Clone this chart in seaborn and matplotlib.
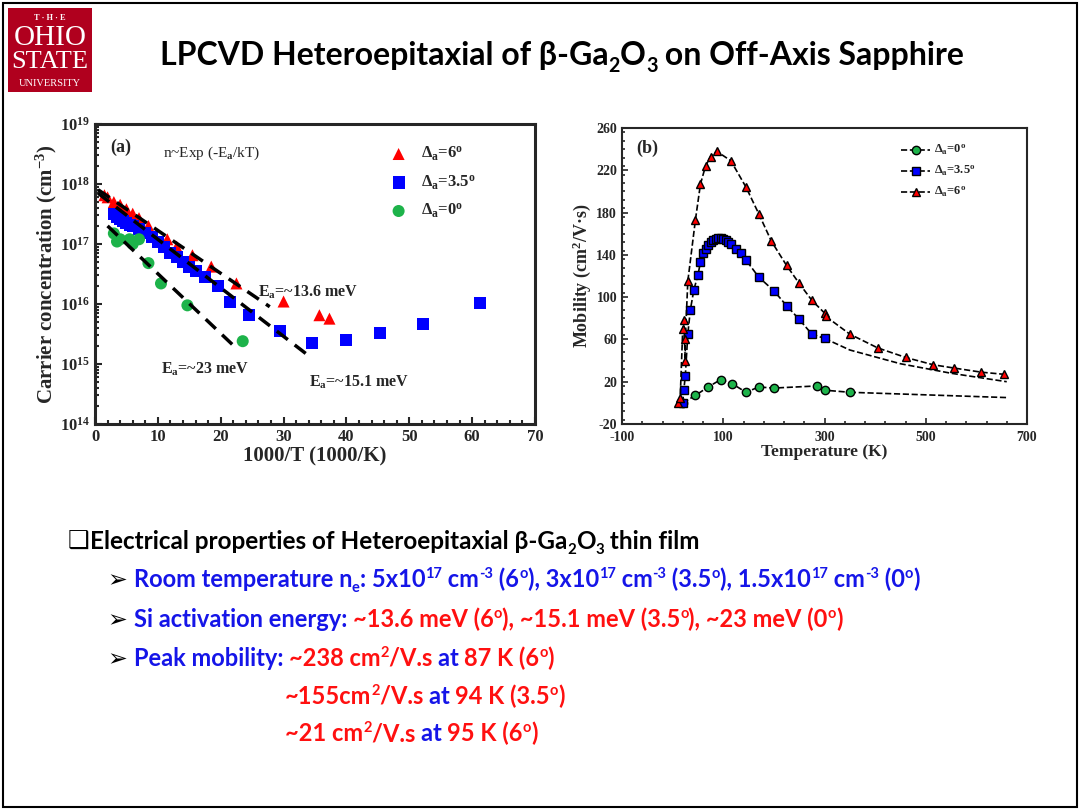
import numpy as np
import pandas as pd
import seaborn as sns
import matplotlib
matplotlib.use('Agg')
from matplotlib import pyplot as plt
from matplotlib.patches import Rectangle
from matplotlib.ticker import MultipleLocator, LogLocator, NullFormatter
from matplotlib.transforms import IdentityTransform

# ---- panel (a): carrier concentration vs 1000/T ----
inv_t_6 = [1.5, 2, 3, 4, 5, 6, 7, 8.5, 11.5, 13, 15.5, 18.5, 22.5, 30, 35.7, 37.3]
n_6 = [6.5e17, 6e17, 5e17, 4.5e17, 3.8e17, 3.2e17, 2.7e17, 2e17, 1.2e17, 9e16, 6.5e16,
       4.2e16, 2.2e16, 1.1e16, 6.5e15, 5.7e15]
inv_t_35 = [3, 3.5, 4, 4.5, 5, 5.5, 6, 7, 8, 9, 10, 11, 12, 13, 14, 15, 16, 17.5, 19.5,
            21.5, 24.5, 29.5, 34.5, 40, 45.3, 52.2, 61.3]
n_35 = [3.2e17, 2.8e17, 2.6e17, 2.4e17, 2.2e17, 2.1e17, 2e17, 1.8e17, 1.5e17, 1.3e17,
        1.1e17, 9e16, 7e16, 6e16, 5e16, 4.2e16, 3.5e16, 2.8e16, 2e16, 1.1e16, 6.5e15,
        3.5e15, 2.2e15, 2.5e15, 3.3e15, 4.7e15, 1.05e16]
inv_t_0 = [3, 3.5, 4, 5.5, 6, 7, 8.5, 10.5, 14.7, 23.5]
n_0 = [1.5e17, 1.1e17, 1.2e17, 1.2e17, 1e17, 1.2e17, 4.8e16, 2.2e16, 9.5e15, 2.4e15]
fit_6 = ([0.5, 27.8], [8e17, 9e15])
fit_35 = ([0.5, 34.5], [7e17, 1.25e15])
fit_0 = ([2, 22.8], [2e17, 1.7e15])

# ---- panel (b): mobility vs temperature ----
temp_6 = [10, 15, 20, 22, 25, 25, 30, 45, 55, 65, 75, 87, 115, 145, 170, 195, 225, 250,
          275, 300, 302, 350, 405, 460, 515, 555, 610, 655]
mu_6 = [0, 5, 70, 78, 40, 60, 115, 173, 207, 224, 233, 238, 229, 204, 179, 153, 130, 113,
        97, 85, 82, 65, 52, 43, 36, 33, 29, 27]
temp_35 = [20, 22, 25, 30, 35, 42, 50, 55, 60, 65, 70, 75, 80, 85, 90, 95, 100, 105, 110,
           115, 125, 135, 145, 170, 200, 225, 250, 275, 300]
mu_35 = [0, 12, 25, 65, 88, 107, 121, 133, 142, 146, 149, 152, 154, 155, 156, 156, 155,
         154, 152, 150, 146, 142, 135, 119, 106, 92, 79, 65, 61]
temp_35_tail = [300, 350, 450, 550, 660]
mu_35_tail = [61, 50, 37, 28, 20]
temp_0 = [20, 45, 70, 95, 118, 145, 170, 200, 285, 300, 350]
mu_0 = [0, 7, 15, 22, 18, 10, 15, 14, 16, 12, 10]
temp_0_tail = [350, 660]
mu_0_tail = [10, 5]

RED = '#ff0000'
BLUE = '#0000ff'
GREEN = '#1db34a'

sns.set_style('ticks')
plt.rcParams['font.family'] = ['Liberation Serif', 'DejaVu Sans']
plt.rcParams['font.weight'] = 'bold'
plt.rcParams['axes.labelweight'] = 'bold'
plt.rcParams['axes.unicode_minus'] = False
plt.rcParams['mathtext.fontset'] = 'custom'
plt.rcParams['mathtext.rm'] = 'Liberation Serif:bold'
plt.rcParams['mathtext.bf'] = 'Liberation Serif:bold'
plt.rcParams['mathtext.it'] = 'Liberation Serif:bold'
plt.rcParams['mathtext.default'] = 'bf'

W, H = 1080, 810
fig = plt.figure(figsize=(10.8, 8.1), dpi=100)
fig.patches.append(Rectangle((3 / W, 3 / H), 1 - 6 / W, 1 - 6 / H, transform=fig.transFigure,
                             fill=False, lw=1.5, ec='black'))

# logo
fig.patches.append(Rectangle((8 / W, 1 - 92 / H), 84 / W, 84 / H, transform=fig.transFigure,
                             fc='#b0001e', ec='none'))
fig.text(50 / W, 1 - 18 / H, 'T · H · E', color='white', fontsize=6, ha='center', va='center')
fig.text(50 / W, 1 - 38 / H, 'OHIO', color='white', fontsize=21, ha='center', va='center',
         fontweight='normal')
fig.text(50 / W, 1 - 62 / H, 'STATE', color='white', fontsize=19, ha='center', va='center',
         fontweight='normal')
fig.text(50 / W, 1 - 84 / H, 'UNIVERSITY', color='white', fontsize=7.5, ha='center', va='center',
         fontweight='normal')


def rich(x, y, pieces, size, family='Lato'):
    """draw a line of coloured pieces; y is pixels from top"""
    r = fig.canvas.get_renderer()
    cx = x
    for s, col, kind in pieces:
        fs, dy = size, 0
        if kind == 'sup':
            fs, dy = size * 0.62, size * 0.55
        elif kind == 'sub':
            fs, dy = size * 0.62, -size * 0.3
        t = fig.text(cx, H - y + dy, s, color=col, fontsize=fs, fontweight='bold',
                     family=[family, 'DejaVu Sans'], transform=IdentityTransform(), va='baseline')
        cx += t.get_window_extent(r).width


rich(160, 65, [('LPCVD Heteroepitaxial of β-Ga', 'black', None), ('2', 'black', 'sub'),
               ('O', 'black', None), ('3', 'black', 'sub'), (' on Off-Axis Sapphire', 'black', None)], 23)

# ---- panel (a)
ax1 = fig.add_axes([95 / W, 1 - 424 / H, 440 / W, 300 / H])
sns.scatterplot(x=inv_t_6, y=n_6, marker='^', color=RED, s=75, ax=ax1, edgecolor='none')
sns.scatterplot(x=inv_t_35, y=n_35, marker='s', color=BLUE, s=75, ax=ax1, edgecolor='none')
sns.scatterplot(x=inv_t_0, y=n_0, marker='o', color=GREEN, s=75, ax=ax1, edgecolor='none')
for fx, fy in (fit_6, fit_35, fit_0):
    ax1.plot(fx, fy, color='black', lw=2.5, ls=(0, (4, 2.5)))
ax1.set_yscale('log')
ax1.set_xlim(0, 70)
ax1.set_ylim(1e14, 1e19)
ax1.xaxis.set_major_locator(MultipleLocator(10))
ax1.xaxis.set_minor_locator(MultipleLocator(2))
ax1.yaxis.set_major_locator(LogLocator(10, numticks=10))
ax1.yaxis.set_minor_locator(LogLocator(10, subs=np.arange(2, 10), numticks=10))
ax1.yaxis.set_minor_formatter(NullFormatter())
ax1.tick_params(which='both', direction='in', width=1.5, labelsize=12)
ax1.tick_params(which='major', length=5)
ax1.tick_params(which='minor', length=3)
for sp in ax1.spines.values():
    sp.set_linewidth(2.2)
ax1.set_xlabel('1000/T (1000/K)', fontsize=15, labelpad=1)
ax1.set_ylabel('Carrier concentration (cm$^{-3}$)', fontsize=15, labelpad=1)
ax1.text(0.035, 0.95, '(a)', transform=ax1.transAxes, fontsize=13, va='top')
ax1.text(0.155, 0.93, 'n~Exp (-E$_a$/kT)', transform=ax1.transAxes, fontsize=11, va='top',
         fontweight='normal')
ax1.text(26, 1.35e16, 'E$_a$=~13.6 meV', fontsize=11.5)
ax1.text(10.5, 7e14, 'E$_a$=~23 meV', fontsize=11.5)
ax1.text(34, 4.2e14, 'E$_a$=~15.1 meV', fontsize=11.5)
for i, (mk, col, lab) in enumerate([('^', RED, r'$\Delta_a$=6$^o$'), ('s', BLUE, r'$\Delta_a$=3.5$^o$'),
                                    ('o', GREEN, r'$\Delta_a$=0$^o$')]):
    yy = 0.9 - i * 0.095
    ax1.scatter([0.69], [yy], marker=mk, color=col, s=75, transform=ax1.transAxes, edgecolor='none')
    ax1.text(0.74, yy, lab, transform=ax1.transAxes, fontsize=12, va='center')

# ---- panel (b)
ax2 = fig.add_axes([622 / W, 1 - 424 / H, 405 / W, 296 / H])
ax2.plot(temp_0_tail, mu_0_tail, color='black', ls='--', lw=1.2)
ax2.plot(temp_35_tail, mu_35_tail, color='black', ls='--', lw=1.2)
ax2.plot(temp_0, mu_0, color='black', ls='--', lw=1.2, marker='o', mfc=GREEN, mec='black', ms=6)
ax2.plot(temp_35, mu_35, color='black', ls='--', lw=1.2, marker='s', mfc=BLUE, mec='black', ms=6)
ax2.plot(temp_6, mu_6, color='black', ls='--', lw=1.2, marker='^', mfc=RED, mec='black', ms=6)
ax2.set_xlim(-100, 700)
ax2.set_ylim(-20, 260)
ax2.xaxis.set_major_locator(MultipleLocator(200, offset=100))
ax2.xaxis.set_minor_locator(MultipleLocator(40, offset=20))
ax2.yaxis.set_major_locator(MultipleLocator(40, offset=20))
ax2.yaxis.set_minor_locator(MultipleLocator(8))
ax2.tick_params(which='both', direction='in', width=1.2, labelsize=10)
ax2.tick_params(which='major', length=4)
ax2.tick_params(which='minor', length=2.5)
ax2.tick_params(axis='x', pad=5)
for sp in ax2.spines.values():
    sp.set_linewidth(1.5)
ax2.set_xlabel('Temperature (K)', fontsize=12.5, labelpad=0)
ax2.set_ylabel('Mobility (cm$^2$/V·s)', fontsize=13, labelpad=2)
ax2.text(0.035, 0.96, '(b)', transform=ax2.transAxes, fontsize=13, va='top')
for i, (mk, col, lab) in enumerate([('o', GREEN, r'$\Delta_a$=0$^o$'), ('s', BLUE, r'$\Delta_a$=3.5$^o$'),
                                    ('^', RED, r'$\Delta_a$=6$^o$')]):
    yy = 0.925 - i * 0.07
    ax2.plot([0.69, 0.76], [yy, yy], color='black', ls='--', lw=1.2, transform=ax2.transAxes)
    ax2.plot([0.725], [yy], marker=mk, mfc=col, mec='black', ms=6, transform=ax2.transAxes)
    ax2.text(0.77, yy, lab, transform=ax2.transAxes, fontsize=9, va='center')

# ---- bullet text
K, B, R = 'black', '#1515e8', '#ff1010'
rich(68, 549, [('❑', K, None), ('Electrical properties of Heteroepitaxial β-Ga', K, None), ('2', K, 'sub'),
               ('O', K, None), ('3', K, 'sub'), (' thin film', K, None)], 17.5)
rich(108, 587, [('➢ ', K, None), ('Room temperature n', B, None), ('e', B, 'sub'), (': 5x10', B, None),
                ('17', B, 'sup'), (' cm', B, None), ('-3', B, 'sup'), (' (6', B, None), ('o', B, 'sup'),
                ('), 3x10', B, None), ('17', B, 'sup'), (' cm', B, None), ('-3', B, 'sup'), (' (3.5', B, None),
                ('o', B, 'sup'), ('), 1.5x10', B, None), ('17', B, 'sup'), (' cm', B, None), ('-3', B, 'sup'),
                (' (0', B, None), ('o', B, 'sup'), (')', B, None)], 17)
rich(108, 627, [('➢ ', K, None), ('Si activation energy: ', B, None), ('~13.6 meV (6', R, None), ('o', R, 'sup'),
                ('), ~15.1 meV (3.5', R, None), ('o', R, 'sup'), ('), ~23 meV (0', R, None), ('o', R, 'sup'),
                (')', R, None)], 17)
rich(108, 666, [('➢ ', K, None), ('Peak mobility: ', B, None), ('~238 cm', R, None), ('2', R, 'sup'),
                ('/V.s ', R, None), ('at ', B, None), ('87 K (6', R, None), ('o', R, 'sup'), (')', R, None)], 17)
rich(285, 704, [('~155cm', R, None), ('2', R, 'sup'), ('/V.s ', R, None), ('at ', B, None),
                ('94 K (3.5', R, None), ('o', R, 'sup'), (')', R, None)], 17)
rich(285, 741, [('~21 cm', R, None), ('2', R, 'sup'), ('/V.s ', R, None), ('at ', B, None),
                ('95 K (6', R, None), ('o', R, 'sup'), (')', R, None)], 17)

fig.savefig('out.png', dpi=100)
